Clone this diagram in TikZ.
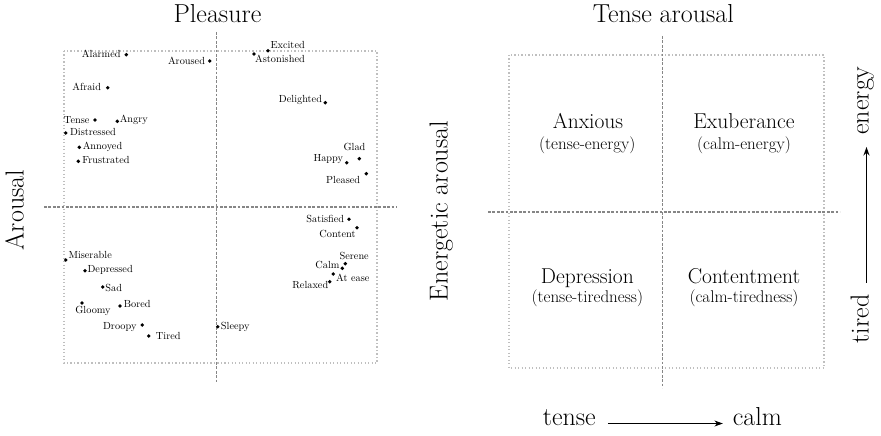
\documentclass[tikz,border=0pt]{standalone}
\usetikzlibrary{arrows.meta}
\begin{document}
\begin{tikzpicture}[x=1pt,y=-1pt,
  lab/.style={inner sep=0pt,anchor=mid,font=\fontsize{10.3}{12}\selectfont},
  dotnode/.style={circle,fill=black,inner sep=0pt,minimum size=3.8pt},
  axisline/.style={draw=gray!95,line width=1.4pt,dash pattern=on 2.8pt off 1.6pt},
  boxline/.style={draw=gray!50,line width=1.3pt,dash pattern=on 1.3pt off 2.2pt},
  bigtitle/.style={inner sep=0pt,anchor=mid,font=\fontsize{26}{30}\selectfont},
  quadname/.style={inner sep=0pt,anchor=mid,font=\fontsize{21.5}{25}\selectfont},
  quadsub/.style={inner sep=0pt,anchor=mid,font=\fontsize{17}{20}\selectfont},
  arr/.style={-{Stealth[length=8.5pt,width=6pt]},line width=1.1pt}]
\useasboundingbox (0,0) rectangle (881,436);

% ---------- left panel ----------
\draw[boxline] (64,51) rectangle (377,363);
\draw[axisline] (216.5,32) -- (216.5,383);
\draw[axisline] (44,207) -- (397,207);
\node[bigtitle] (pleasure) at (217.5,20) {Pleasure};
\node[bigtitle,rotate=90] (arousal) at (21.5,210) {Arousal};

\node[dotnode] (d1) at (126.3,54.7) {};  \node[lab] (l1) at (101.3,55.7) {Alarmed};
\node[dotnode] (d2) at (209.7,61) {};    \node[lab] (l2) at (186.5,62) {Aroused};
\node[dotnode] (d3) at (107.7,87.7) {};  \node[lab] (l3) at (86.7,88.7) {Afraid};
\node[dotnode] (d4) at (95,120) {};      \node[lab] (l4) at (76.7,121) {Tense};
\node[dotnode] (d5) at (117.3,121.3) {}; \node[lab] (l5) at (133.8,120) {Angry};
\node[dotnode] (d6) at (65.7,133) {};    \node[lab] (l6) at (93,133.5) {Distressed};
\node[dotnode] (d7) at (79.3,147.3) {};  \node[lab] (l7) at (102.5,147) {Annoyed};
\node[dotnode] (d8) at (78.3,161.3) {};  \node[lab] (l8) at (106,161.5) {Frustrated};
\node[dotnode] (d9) at (268,50.7) {};    \node[lab] (l9) at (287.7,46.7) {Excited};
\node[dotnode] (d10) at (254,54) {};     \node[lab] (l10) at (280,60.3) {Astonished};
\node[dotnode] (d11) at (325.3,102.7) {};\node[lab] (l11) at (300.5,100) {Delighted};
\node[dotnode] (d12) at (359.3,158.7) {};\node[lab] (l12) at (354.5,148.3) {Glad};
\node[dotnode] (d13) at (346.7,162.7) {};\node[lab] (l13) at (328.3,159.5) {Happy};
\node[dotnode] (d14) at (366.3,173.7) {};\node[lab] (l14) at (343.2,181) {Pleased};
\node[dotnode] (d15) at (349,219.3) {};  \node[lab] (l15) at (325.3,220.3) {Satisfied};
\node[dotnode] (d16) at (357,227.7) {};  \node[lab] (l16) at (337.5,235.3) {Content};
\node[dotnode] (d17) at (345.3,263.7) {};\node[lab] (l17) at (354.2,257.7) {Serene};
\node[dotnode] (d18) at (342.3,268.3) {};\node[lab] (l18) at (327.5,266.3) {Calm};
\node[dotnode] (d19) at (333.3,274) {};  \node[lab] (l19) at (352.8,279.7) {At ease};
\node[dotnode] (d20) at (329.7,281.7) {};\node[lab] (l20) at (310.3,286.3) {Relaxed};
\node[dotnode] (d21) at (217.7,326.7) {};\node[lab] (l21) at (235.3,327) {Sleepy};
\node[dotnode] (d22) at (65.7,260) {};   \node[lab] (l22) at (90.2,256.7) {Miserable};
\node[dotnode] (d23) at (85,270.7) {};   \node[lab] (l23) at (110.2,270.7) {Depressed};
\node[dotnode] (d24) at (102.7,287) {};  \node[lab] (l24) at (113.7,289.2) {Sad};
\node[dotnode] (d25) at (82,303) {};     \node[lab] (l25) at (93,311) {Gloomy};
\node[dotnode] (d26) at (120,306) {};    \node[lab] (l26) at (137.3,305) {Bored};
\node[dotnode] (d27) at (142.3,325) {};  \node[lab] (l27) at (119.8,327) {Droopy};
\node[dotnode] (d28) at (148.7,336) {};  \node[lab] (l28) at (168.3,337) {Tired};

% ---------- right panel ----------
\draw[boxline] (509,55) rectangle (824,368);
\draw[axisline] (662.3,36) -- (662.3,388);
\draw[axisline] (488,212) -- (840,212);
\node[bigtitle] (tensearousal) at (663.3,20) {Tense arousal};
\node[bigtitle,rotate=90] (energetic) at (445.5,211) {Energetic arousal};

\node[quadname] (anx) at (588,126.8) {Anxious};
\node[quadsub] (anxs) at (587.3,147) {(tense-energy)};
\node[quadname] (exu) at (744,126.8) {Exuberance};
\node[quadsub] (exus) at (744,147) {(calm-energy)};
\node[quadname] (dep) at (587.3,281.8) {Depression};
\node[quadsub] (deps) at (587.3,300) {(tense-tiredness)};
\node[quadname] (con) at (744,281.8) {Contentment};
\node[quadsub] (cons) at (744,300) {(calm-tiredness)};

\node[bigtitle] (tense) at (569.3,423.5) {tense};
\node[bigtitle] (calm) at (757.3,423.5) {calm};
\draw[arr,shorten <=12pt,shorten >=9.7pt] (tense.mid east) -- (calm.mid west);

\node[bigtitle,rotate=90] (tired) at (866.5,319) {tired};
\node[bigtitle,rotate=90] (energy) at (866.5,100.5) {energy};
\draw[arr,shorten <=11.6pt,shorten >=12.2pt] (tired.mid east) -- (energy.mid west);
\end{tikzpicture}
\end{document}
